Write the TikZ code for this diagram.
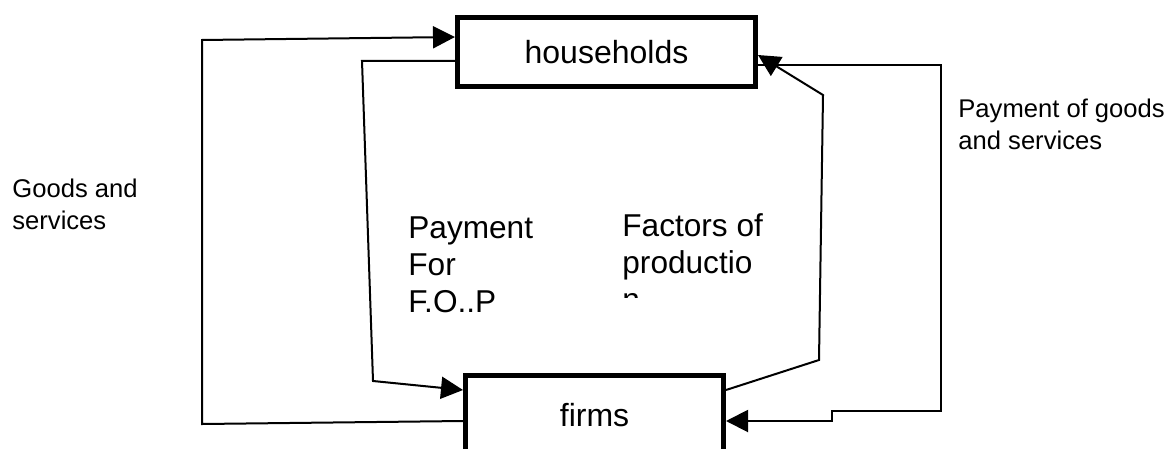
\documentclass[tikz,border=0pt]{standalone}
\usepackage{fontspec}
\setmainfont{Liberation Sans}
\usetikzlibrary{arrows.meta, positioning}

\begin{document}
\begin{tikzpicture}[
    x=0.5pt, y=-0.5pt,
    sector/.style={rectangle, draw, line width=2.5pt, inner sep=0pt, font=\fontsize{16}{19}\selectfont},
    flow/.style={-{Triangle[length=11pt, width=11pt]}, line width=1pt},
    note/.style={anchor=west, align=left, inner sep=0pt, font=\fontsize{12.8}{16}\selectfont},
    bignote/.style={anchor=west, align=left, inner sep=0pt, font=\fontsize{15.8}{18.5}\selectfont}
]
    \useasboundingbox (0,0) rectangle (1176,449);

    % Households and firms
    \node[sector, minimum width=149pt, minimum height=34.5pt] (hh) at (606.5,52) {households};
    \node[sector, minimum width=129pt, minimum height=39.5pt] (fm) at (594.5,415) {firms};

    % Side labels
    \node[note] (gslabel) at (12,204) {Goods and\\services};
    \node[note] (pglabel) at (958,124) {Payment of goods\\and services};

    % Inner labels (cut off at the bottom)
    \begin{scope}
        \clip (380,180) rectangle (600,313);
        \node[bignote] (foplabel) at (408,265) {Payment\\For\\F.O..P};
    \end{scope}
    \begin{scope}
        \clip (600,180) rectangle (800,297);
        \node[bignote] (fplabel) at (622,262) {Factors of\\productio\\n};
    \end{scope}

    % Bends
    \coordinate (gsbot) at (202,424);
    \coordinate (gstop) at (202,40);
    \coordinate (foptop) at (362,61);
    \coordinate (fopbot) at (373,381);
    \coordinate (fpbot) at (819,360);
    \coordinate (fptop) at (823,95);
    \coordinate (pgtop) at (941,65);
    \coordinate (pgbot) at (941,411);
    \coordinate (pgstep) at (832,411);
    \coordinate (pglow) at (832,421);

    % Flows
    \draw[flow] ([yshift=-3pt]fm.west) -- (gsbot) -- (gstop) -- ([yshift=7.5pt]hh.west);
    \draw[flow] ([yshift=-4.5pt]hh.west) -- (foptop) -- (fopbot) -- ([yshift=12.5pt]fm.west);
    \draw[flow] ([yshift=12.5pt]fm.east) -- (fpbot) -- (fptop) -- ([yshift=-1.5pt]hh.east);
    \draw[flow] ([yshift=-6.5pt]hh.east) -- (pgtop) -- (pgbot) -- (pgstep) -- (pglow) -- ([yshift=-3pt]fm.east);

\end{tikzpicture}
\end{document}
